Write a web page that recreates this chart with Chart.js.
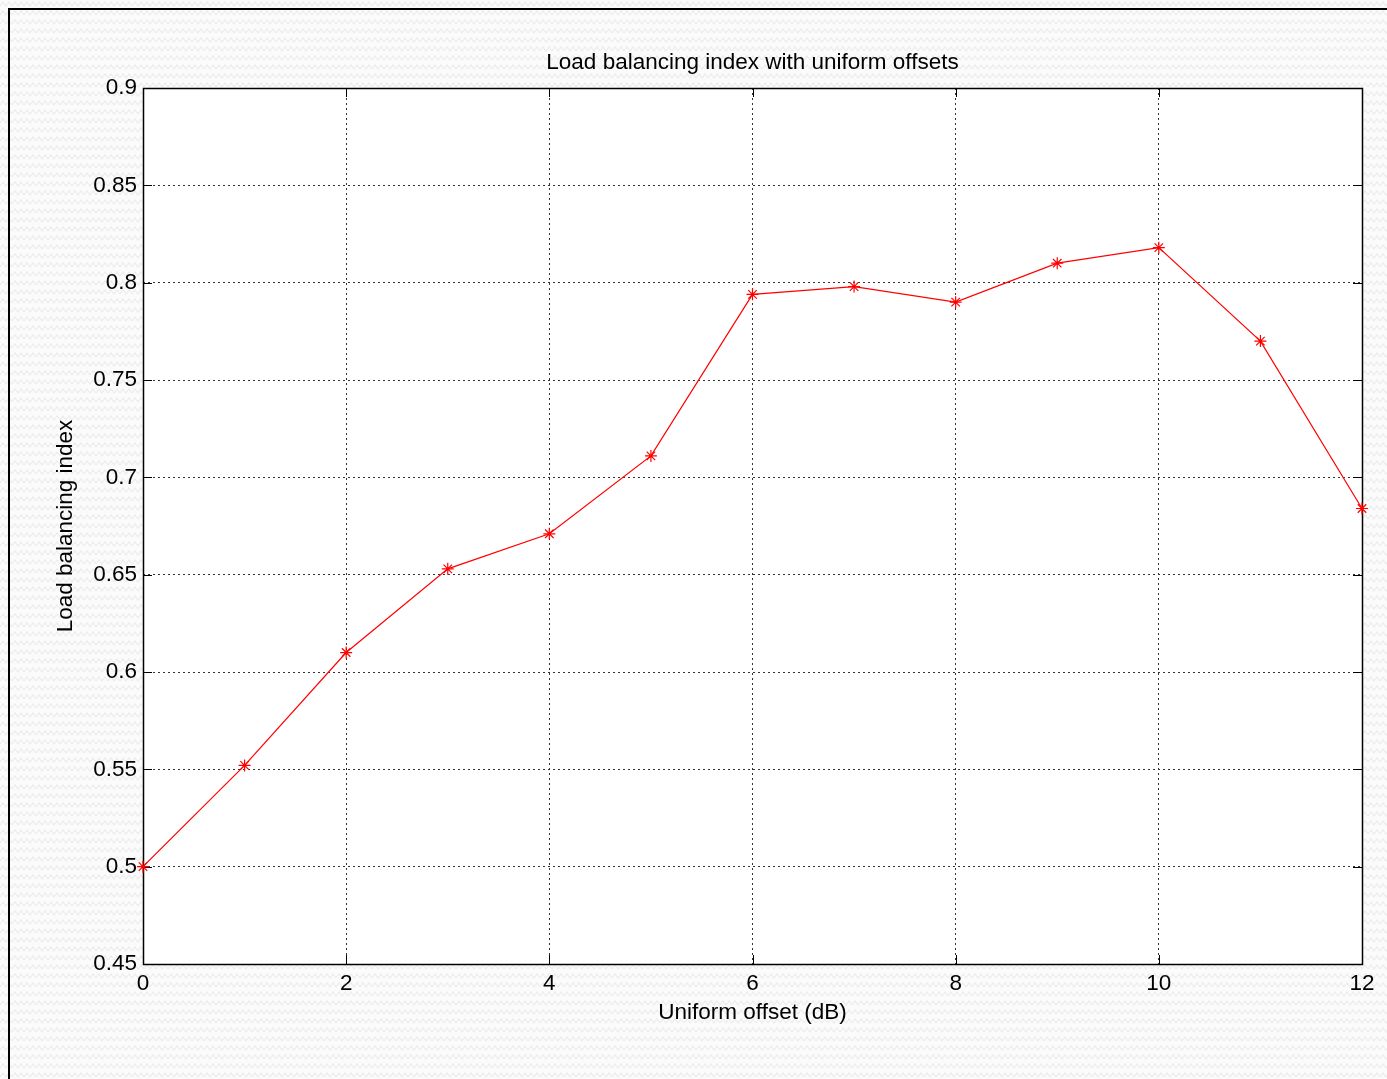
<!DOCTYPE html>
<html>
<head>
<meta charset="utf-8">
<script src="https://cdn.jsdelivr.net/npm/chart.js@4.4.0/dist/chart.umd.min.js"></script>
<style>
  html, body { margin: 0; padding: 0; background: #fff; }
  #wrap { position: absolute; left: 0; top: 0; width: 1387px; height: 1079px; }
</style>
</head>
<body>
<div id="wrap"><canvas id="chart"></canvas></div>
<script>
// data
var offsets = [0, 1, 2, 3, 4, 5, 6, 7, 8, 9, 10, 11, 12];
var loadIndex = [0.500, 0.552, 0.610, 0.653, 0.671, 0.711, 0.794, 0.798, 0.790, 0.810, 0.818, 0.770, 0.684];
var xTicks = [0, 2, 4, 6, 8, 10, 12];
var yTicks = [0.45, 0.5, 0.55, 0.6, 0.65, 0.7, 0.75, 0.8, 0.85, 0.9];
var chartTitle = 'Load balancing index with uniform offsets';

var FONT = 'Arial, "Liberation Sans", Helvetica, sans-serif';
var FS = 22.5;

// faint wavy backdrop like the figure window
function makePattern(ctx) {
  var c = document.createElement('canvas');
  c.width = 12; c.height = 9;
  var g = c.getContext('2d');
  g.fillStyle = '#fbfbfb';
  g.fillRect(0, 0, 12, 9);
  g.strokeStyle = '#ececec';
  g.lineWidth = 1.2;
  g.beginPath();
  g.moveTo(0, 6); g.lineTo(3, 2); g.lineTo(6, 6); g.lineTo(9, 2); g.lineTo(12, 6);
  g.stroke();
  return ctx.createPattern(c, 'repeat');
}

var figure = {
  id: 'figure',
  beforeDraw: function (chart) {
    var ctx = chart.ctx, a = chart.chartArea;
    ctx.save();
    ctx.fillStyle = makePattern(ctx);
    ctx.fillRect(0, 0, chart.width, chart.height);
    // window frame (left and top edges visible)
    ctx.strokeStyle = '#000';
    ctx.lineWidth = 2;
    ctx.beginPath();
    ctx.moveTo(9, chart.height);
    ctx.lineTo(9, 9);
    ctx.lineTo(chart.width, 9);
    ctx.stroke();
    ctx.beginPath();
    ctx.fillStyle = '#fff';
    ctx.fillRect(a.left, a.top, a.right - a.left, a.bottom - a.top);
    // title centred over the axes, as MATLAB does
    ctx.fillStyle = '#000';
    ctx.font = FS + 'px ' + FONT;
    ctx.textAlign = 'center';
    ctx.textBaseline = 'middle';
    ctx.fillText(chartTitle, (a.left + a.right) / 2, 63);
    ctx.restore();
  },
  beforeDatasetsDraw: function (chart) {
    var ctx = chart.ctx, a = chart.chartArea;
    var xs = chart.scales.x, ys = chart.scales.y;
    var t = 9;
    ctx.save();
    ctx.setLineDash([]);
    ctx.strokeStyle = '#000';
    ctx.lineWidth = 1;
    ctx.beginPath();
    xTicks.forEach(function (v) {
      var px = Math.round(xs.getPixelForValue(v)) + 0.5;
      ctx.moveTo(px, a.bottom); ctx.lineTo(px, a.bottom - t);
      ctx.moveTo(px, a.top); ctx.lineTo(px, a.top + t);
    });
    yTicks.forEach(function (v) {
      var py = Math.round(ys.getPixelForValue(v)) + 0.5;
      ctx.moveTo(a.left, py); ctx.lineTo(a.left + t, py);
      ctx.moveTo(a.right, py); ctx.lineTo(a.right - t, py);
    });
    ctx.stroke();
    ctx.beginPath();
    ctx.lineWidth = 1.5;
    ctx.strokeRect(Math.round(a.left) + 0.5, Math.round(a.top) + 0.5,
      Math.round(a.right - a.left), Math.round(a.bottom - a.top));
    ctx.beginPath();
    ctx.restore();
  }
};

var points = offsets.map(function (x, i) { return { x: x, y: loadIndex[i] }; });

new Chart(document.getElementById('chart'), {
  type: 'line',
  data: {
    datasets: [{
      data: points,
      borderColor: '#ff0000',
      backgroundColor: '#ff0000',
      borderWidth: 1.2,
      tension: 0,
      pointStyle: 'star',
      pointRadius: 6,
      pointBorderWidth: 1.2,
      pointBorderColor: '#ff0000',
      clip: false
    }]
  },
  options: {
    responsive: true,
    maintainAspectRatio: false,
    animation: false,
    events: [],
    layout: { padding: { left: 50, right: 25, top: 88, bottom: 45 } },
    plugins: {
      legend: { display: false },
      tooltip: { enabled: false },
      title: { display: false }
    },
    scales: {
      x: {
        type: 'linear',
        min: 0, max: 12,
        afterBuildTicks: function (s) { s.ticks = xTicks.map(function (v) { return { value: v }; }); },
        afterFit: function (s) { s.height = 70; },
        grid: { color: '#333', tickLength: 0, drawTicks: false },
        border: { display: false, dash: [2, 3] },
        ticks: { color: '#000', font: { family: FONT, size: FS }, padding: 6, maxRotation: 0 },
        title: {
          display: true, text: 'Uniform offset (dB)', color: '#000',
          font: { family: FONT, size: FS }, padding: { top: 2, bottom: 8 }
        }
      },
      y: {
        type: 'linear',
        min: 0.45, max: 0.9,
        afterBuildTicks: function (s) { s.ticks = yTicks.map(function (v) { return { value: v }; }); },
        afterFit: function (s) { s.width = 93; },
        grid: { color: '#333', tickLength: 0, drawTicks: false },
        border: { display: false, dash: [2, 3] },
        ticks: {
          color: '#000', font: { family: FONT, size: FS }, padding: 6,
          callback: function (v) { return String(Math.round(v * 100) / 100); }
        },
        title: {
          display: true, text: 'Load balancing index', color: '#000',
          font: { family: FONT, size: FS }, padding: { top: 2, bottom: 0 }
        }
      }
    }
  },
  plugins: [figure]
});
</script>
</body>
</html>
